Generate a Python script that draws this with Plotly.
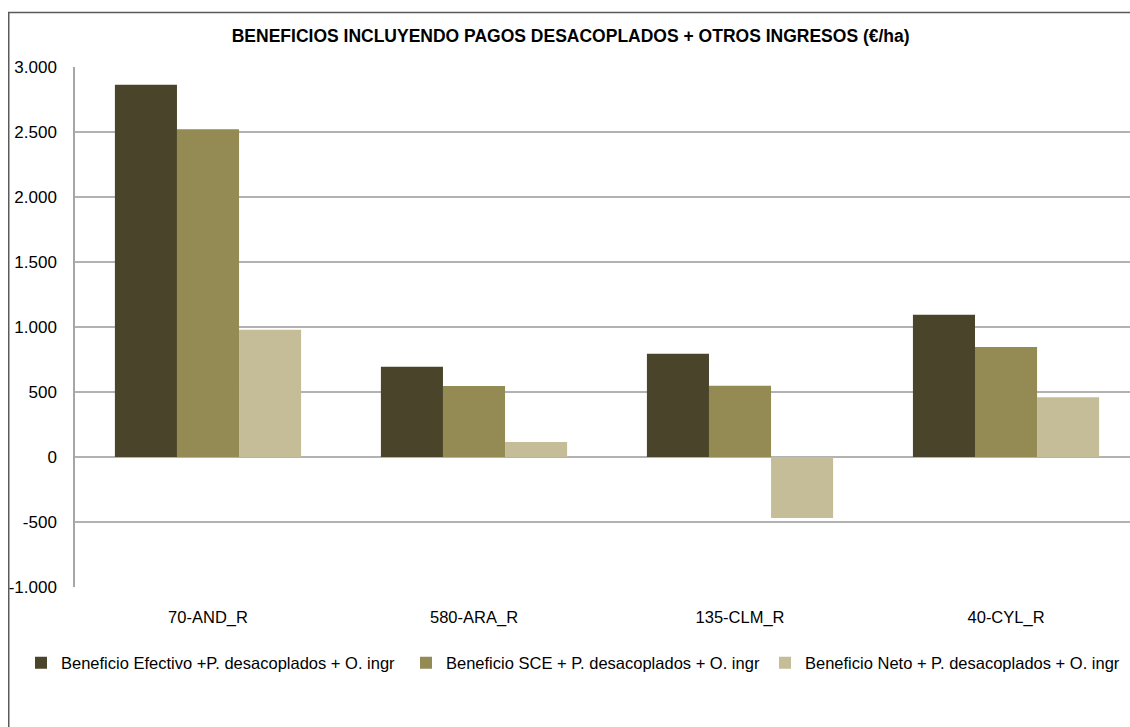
import plotly.graph_objects as go

# Data (€/ha)
categories = ["70-AND_R", "580-ARA_R", "135-CLM_R", "40-CYL_R"]
series_names = [
    "Beneficio Efectivo +P. desacoplados + O. ingr",
    "Beneficio SCE + P. desacoplados + O. ingr",
    "Beneficio Neto + P. desacoplados + O. ingr",
]
beneficio_efectivo = [2864, 695, 795, 1095]
beneficio_sce = [2522, 547, 548, 846]
beneficio_neto = [978, 115, -469, 460]
series_colors = ["#4A452A", "#948A54", "#C4BD97"]

y_tickvals = [-1000, -500, 0, 500, 1000, 1500, 2000, 2500, 3000]
y_ticktext = ["-1.000", "-500", "0", "500", "1.000", "1.500", "2.000", "2.500", "3.000"]

title_text = "BENEFICIOS INCLUYENDO PAGOS DESACOPLADOS + OTROS INGRESOS (€/ha)"

FONT = "Liberation Sans, Arial, sans-serif"
W, H = 1130, 727
ML, MR, MT, MB = 75, 0, 67, 140
pw = W - ML - MR
ph = H - MT - MB

def px_x(x):
    return (x - ML) / pw

def px_y(y):
    return (H - MB - y) / ph

# one legend per series so the row does not wrap (left edge of each, px)
legend_ids = ["legend", "legend2", "legend3"]
legend_left = [21, 406, 765]

fig = go.Figure()
for name, vals, col, lid in zip(series_names, [beneficio_efectivo, beneficio_sce, beneficio_neto],
                                series_colors, legend_ids):
    fig.add_trace(go.Bar(
        x=categories, y=vals, name=name, legend=lid,
        marker=dict(color=col, line=dict(width=0)),
    ))

fig.update_layout(
    width=W, height=H,
    margin=dict(l=ML, r=MR, t=MT, b=MB, autoexpand=False),
    paper_bgcolor="white", plot_bgcolor="white",
    barmode="group", bargap=0.30, bargroupgap=0,
    font=dict(family=FONT, size=16, color="#000000"),
    title=dict(text="<b>" + title_text + "</b>", x=0.505, xanchor="center",
               y=1 - 36 / H, yanchor="middle", yref="container",
               font=dict(family=FONT, size=17.5, color="#000000")),
    showlegend=True,
)
for lid, lx in zip(legend_ids, legend_left):
    fig.update_layout({lid: dict(
        orientation="h", xref="container", yref="container",
        x=lx / W, xanchor="left", y=1 - 663 / H, yanchor="middle",
        font=dict(family=FONT, size=16.5), itemclick=False,
        bgcolor="rgba(0,0,0,0)",
    )})

fig.update_xaxes(
    range=[-0.5, 3.466], showgrid=False, zeroline=False,
    showline=False, ticks="", ticklabelstandoff=18,
    tickfont=dict(family=FONT, size=16.5),
)
fig.update_yaxes(
    range=[-1000, 3000], tickvals=y_tickvals, ticktext=y_ticktext,
    showgrid=True, gridcolor="#B2B2B2", gridwidth=1.5,
    zeroline=True, zerolinecolor="#B2B2B2", zerolinewidth=1.5,
    showline=True, linecolor="#A6A6A6", linewidth=1.5,
    ticks="", ticklabelstandoff=13,
    tickfont=dict(family=FONT, size=17),
)

# outer chart frame (runs past the right and bottom edges of the picture)
fig.add_shape(type="rect", xref="paper", yref="paper",
              x0=px_x(8.75), x1=px_x(W + 20),
              y0=px_y(H + 20), y1=px_y(12.5),
              line=dict(color="#5A5A5A", width=1.5), fillcolor="rgba(0,0,0,0)",
              layer="below")

# drop the default 8px body margin so the figure fills the window exactly
fig.write_html("out.html", config={"displayModeBar": False},
               post_script="document.body.style.margin='0';document.body.style.overflow='hidden';")
